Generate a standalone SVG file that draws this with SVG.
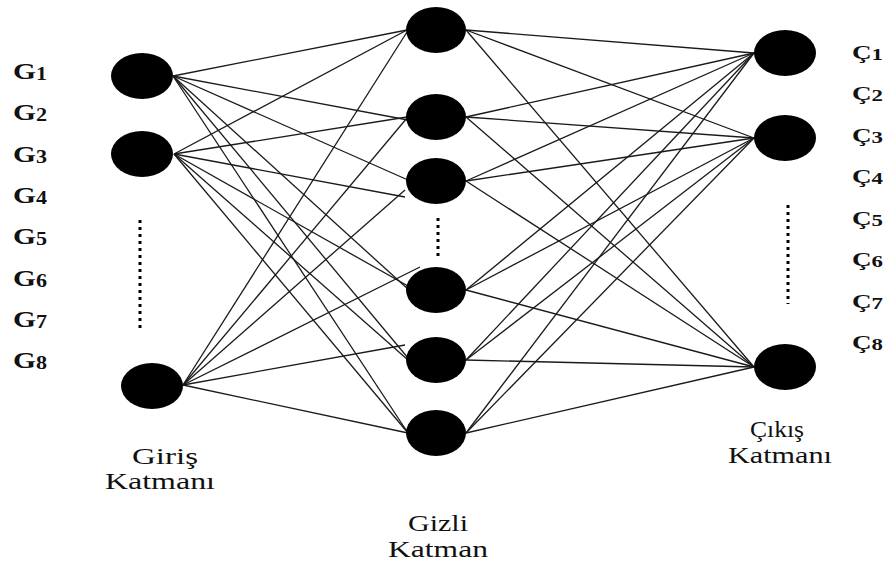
<svg xmlns="http://www.w3.org/2000/svg" width="895" height="566" viewBox="0 0 895 566">
<style>
.n{fill:#000}
.e line{stroke:#1a1a1a;stroke-width:1.3}
.lbl{font-family:"Liberation Serif","Times New Roman",serif;font-weight:bold;fill:#111}
.lay{font-family:"Liberation Serif","Times New Roman",serif;font-size:24px;fill:#111}
.dots{stroke:#000;stroke-width:3;stroke-dasharray:3 4}
</style>
<rect width="895" height="566" fill="#fff"/>
<g id="connectors" class="e">
<line x1="173" y1="76" x2="407" y2="30"/>
<line x1="173" y1="76" x2="408" y2="120"/>
<line x1="173" y1="76" x2="408" y2="180"/>
<line x1="173" y1="76" x2="409" y2="290"/>
<line x1="173" y1="76" x2="408" y2="358"/>
<line x1="173" y1="76" x2="408" y2="433"/>
<line x1="174" y1="154" x2="407" y2="30"/>
<line x1="174" y1="154" x2="407" y2="117"/>
<line x1="174" y1="154" x2="405" y2="197"/>
<line x1="174" y1="154" x2="408" y2="286"/>
<line x1="174" y1="154" x2="408" y2="360"/>
<line x1="174" y1="154" x2="408" y2="433"/>
<line x1="183" y1="385" x2="407" y2="32"/>
<line x1="183" y1="385" x2="407" y2="118"/>
<line x1="183" y1="385" x2="405" y2="190"/>
<line x1="183" y1="385" x2="420" y2="267"/>
<line x1="183" y1="385" x2="405" y2="345"/>
<line x1="183" y1="385" x2="408" y2="433"/>
<line x1="466" y1="30" x2="754" y2="53"/>
<line x1="466" y1="30" x2="754" y2="138"/>
<line x1="466" y1="30" x2="754" y2="367"/>
<line x1="466" y1="117" x2="754" y2="53"/>
<line x1="466" y1="117" x2="754" y2="138"/>
<line x1="466" y1="117" x2="754" y2="367"/>
<line x1="466" y1="181" x2="754" y2="53"/>
<line x1="466" y1="181" x2="754" y2="138"/>
<line x1="466" y1="181" x2="754" y2="367"/>
<line x1="466" y1="290" x2="754" y2="53"/>
<line x1="466" y1="290" x2="754" y2="138"/>
<line x1="466" y1="290" x2="754" y2="367"/>
<line x1="466" y1="360" x2="754" y2="53"/>
<line x1="466" y1="360" x2="754" y2="138"/>
<line x1="466" y1="360" x2="754" y2="367"/>
<line x1="466" y1="433" x2="754" y2="53"/>
<line x1="466" y1="433" x2="754" y2="138"/>
<line x1="466" y1="433" x2="754" y2="367"/>
</g>
<g id="in1"><ellipse class="n" cx="142" cy="76" rx="31" ry="23"/></g>
<g id="in2"><ellipse class="n" cx="142" cy="154" rx="31" ry="23"/></g>
<g id="in3"><ellipse class="n" cx="152" cy="386" rx="31" ry="23"/></g>
<g id="h1"><ellipse class="n" cx="436" cy="30" rx="30" ry="23"/></g>
<g id="h2"><ellipse class="n" cx="436" cy="117" rx="30" ry="23"/></g>
<g id="h3"><ellipse class="n" cx="436" cy="181" rx="30" ry="23"/></g>
<g id="h4"><ellipse class="n" cx="436" cy="290" rx="30" ry="23"/></g>
<g id="h5"><ellipse class="n" cx="436" cy="360" rx="30" ry="23"/></g>
<g id="h6"><ellipse class="n" cx="436" cy="433" rx="30" ry="23"/></g>
<g id="o1"><ellipse class="n" cx="785" cy="53" rx="31" ry="23"/></g>
<g id="o2"><ellipse class="n" cx="785" cy="138" rx="31" ry="23"/></g>
<g id="o3"><ellipse class="n" cx="785" cy="367" rx="31" ry="23"/></g>
<g id="ellipsis">
<line class="dots" x1="140" y1="220" x2="140" y2="328"/>
<line class="dots" x1="438" y1="218" x2="438" y2="258"/>
<line class="dots" x1="788" y1="205" x2="788" y2="304"/>
</g>
<g id="input-labels" class="lbl">
<text x="13" y="79" font-size="24" textLength="34" lengthAdjust="spacingAndGlyphs">G<tspan font-size="18" dy="1">1</tspan></text>
<text x="13" y="120" font-size="24" textLength="34" lengthAdjust="spacingAndGlyphs">G<tspan font-size="18" dy="1">2</tspan></text>
<text x="13" y="162" font-size="24" textLength="34" lengthAdjust="spacingAndGlyphs">G<tspan font-size="18" dy="1">3</tspan></text>
<text x="13" y="203" font-size="24" textLength="34" lengthAdjust="spacingAndGlyphs">G<tspan font-size="18" dy="1">4</tspan></text>
<text x="13" y="244" font-size="24" textLength="34" lengthAdjust="spacingAndGlyphs">G<tspan font-size="18" dy="1">5</tspan></text>
<text x="13" y="286" font-size="24" textLength="34" lengthAdjust="spacingAndGlyphs">G<tspan font-size="18" dy="1">6</tspan></text>
<text x="13" y="327" font-size="24" textLength="34" lengthAdjust="spacingAndGlyphs">G<tspan font-size="18" dy="1">7</tspan></text>
<text x="13" y="368" font-size="24" textLength="34" lengthAdjust="spacingAndGlyphs">G<tspan font-size="18" dy="1">8</tspan></text>
</g>
<g id="output-labels" class="lbl">
<text x="852" y="59" font-size="19" textLength="31" lengthAdjust="spacingAndGlyphs">Ç<tspan font-size="16" dy="1">1</tspan></text>
<text x="852" y="100" font-size="19" textLength="31" lengthAdjust="spacingAndGlyphs">Ç<tspan font-size="16" dy="1">2</tspan></text>
<text x="852" y="142" font-size="19" textLength="31" lengthAdjust="spacingAndGlyphs">Ç<tspan font-size="16" dy="1">3</tspan></text>
<text x="852" y="183" font-size="19" textLength="31" lengthAdjust="spacingAndGlyphs">Ç<tspan font-size="16" dy="1">4</tspan></text>
<text x="852" y="225" font-size="19" textLength="31" lengthAdjust="spacingAndGlyphs">Ç<tspan font-size="16" dy="1">5</tspan></text>
<text x="852" y="266" font-size="19" textLength="31" lengthAdjust="spacingAndGlyphs">Ç<tspan font-size="16" dy="1">6</tspan></text>
<text x="852" y="308" font-size="19" textLength="31" lengthAdjust="spacingAndGlyphs">Ç<tspan font-size="16" dy="1">7</tspan></text>
<text x="852" y="349" font-size="19" textLength="31" lengthAdjust="spacingAndGlyphs">Ç<tspan font-size="16" dy="1">8</tspan></text>
</g>
<g id="layer-labels" class="lay">
<text x="132" y="464" textLength="66" lengthAdjust="spacingAndGlyphs">Giriş</text>
<text x="105" y="489" textLength="110" lengthAdjust="spacingAndGlyphs">Katmanı</text>
<text x="408" y="531" textLength="60" lengthAdjust="spacingAndGlyphs">Gizli</text>
<text x="388" y="557" textLength="100" lengthAdjust="spacingAndGlyphs">Katman</text>
<text x="750" y="437" textLength="54" lengthAdjust="spacingAndGlyphs">Çıkış</text>
<text x="728" y="463" textLength="104" lengthAdjust="spacingAndGlyphs">Katmanı</text>
</g>
</svg>
